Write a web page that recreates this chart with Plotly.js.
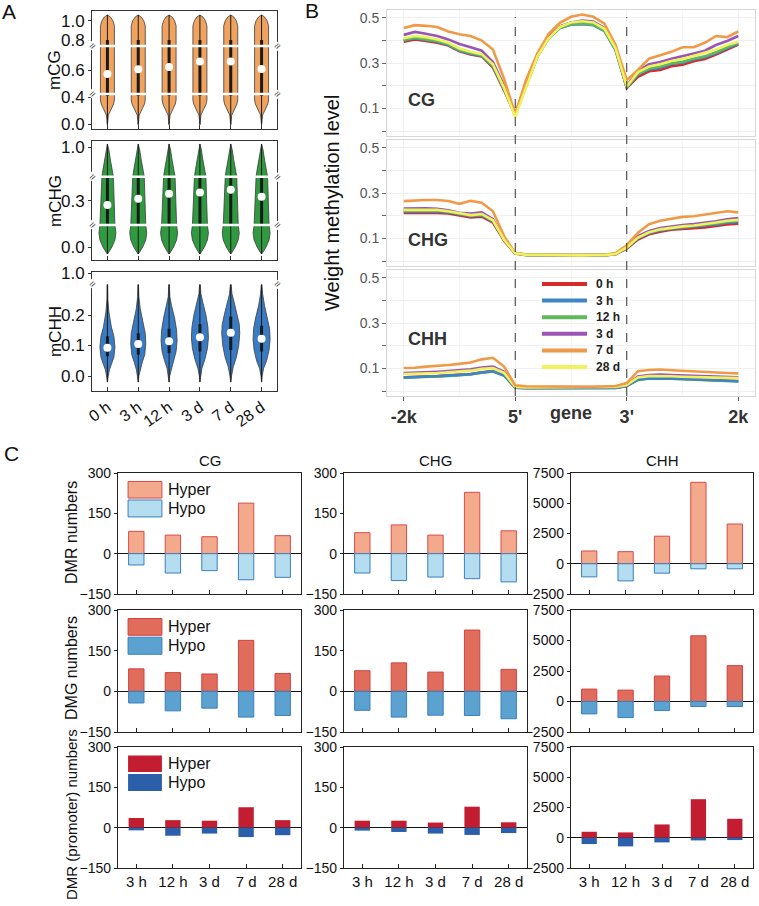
<!DOCTYPE html>
<html><head><meta charset="utf-8">
<script src="https://cdn.plot.ly/plotly-3.0.1.min.js"></script>
<style>html,body{margin:0;padding:0;background:#fff}#chart{width:759px;height:906px}</style>
</head><body><div id="chart"></div>
<script>
// ================= DATA =================
// Panel A (violins)
const timepointsA = ['0 h','3 h','12 h','3 d','7 d','28 d'];
const meanCG  = [0.583,0.603,0.612,0.635,0.635,0.604];
const meanCHG = [0.283,0.309,0.329,0.335,0.346,0.317];
const meanCHH = [0.093,0.105,0.114,0.127,0.142,0.122];
// density profiles: methylation value (top to bottom) and half width (density units)
const profCG_v = [1.06,1.04,1.0,0.95,0.74,0.7,0.5,0.45,0.36,0.3,0.255,0.18,0.135,0.06,0.015,-0.01];
const profCG_w = [0,3,5.5,7,7,7,7,7,7,6.2,5,2.5,1,0.5,0.3,0];
const profCHG_v = [1.034,0.972,0.87,0.768,0.70,0.4,0.2,0.15,0.095,0.048,0.0,-0.034,-0.048];
const profCHG_w = [0,1.5,3,4.5,5.5,6,7.5,7.5,8.5,7.5,4.5,1.5,0];
const profCHH_v = [
  [0.30,0.25,0.21,0.16,0.13,0.095,0.062,0.043,0.02,-0.003,-0.02],
  [0.30,0.26,0.22,0.18,0.14,0.105,0.07,0.045,0.02,0.0,-0.02],
  [0.30,0.26,0.23,0.19,0.15,0.115,0.08,0.05,0.025,0.0,-0.02],
  [0.30,0.27,0.24,0.20,0.16,0.125,0.09,0.055,0.025,0.0,-0.02],
  [0.30,0.27,0.24,0.20,0.17,0.14,0.10,0.06,0.03,0.0,-0.02],
  [0.30,0.27,0.23,0.19,0.155,0.12,0.085,0.05,0.025,0.0,-0.02]
];
const profCHH_w = [
  [0.3,0.5,1.5,4,6.5,7.5,6.5,4.5,2,0.7,0],
  [0.3,0.6,2,4.5,7,7.5,6.5,4,1.8,0.6,0],
  [0.3,0.8,2.5,5.5,7.5,8,7,4.5,2,0.6,0],
  [0.3,1,3,6,8,8.5,7.5,5,2,0.6,0],
  [0.4,1.2,3.5,6.5,8.5,9,8,5.5,2.5,0.8,0],
  [0.3,1,3,6,8,8.5,7.5,5,2,0.6,0]
];
const boxCG = [0.42,0.80], whiskCG = [-0.01,1.06];
const boxCHG = [0.15,0.70], whiskCHG = [-0.048,1.034];
const boxCHH_q1 = [0.065,0.07,0.075,0.08,0.085,0.08];
const boxCHH_q3 = [0.13,0.14,0.155,0.17,0.195,0.165];
const whiskCHH = [-0.02,0.30];

// Panel B (metaplot lines)
const binPos = [0,2,4,6,8,10,12,14,16,18,20,22,24,26,28,30,32,34,36,38,40,42,44,46,48,50,52,54,56,58,60];
const seriesNames = ['0 h','3 h','12 h','3 d','7 d','28 d'];
const cg0h  = [0.395,0.405,0.398,0.39,0.378,0.352,0.338,0.33,0.28,0.18,0.07,0.21,0.337,0.419,0.463,0.478,0.48,0.475,0.448,0.36,0.19,0.24,0.264,0.27,0.286,0.293,0.308,0.318,0.338,0.36,0.382];
const cg3h  = [0.40,0.41,0.402,0.395,0.38,0.355,0.342,0.332,0.285,0.185,0.072,0.205,0.33,0.41,0.455,0.47,0.472,0.468,0.442,0.358,0.192,0.25,0.272,0.28,0.296,0.302,0.316,0.326,0.344,0.366,0.386];
const cg12h = [0.402,0.412,0.405,0.398,0.383,0.358,0.345,0.335,0.288,0.186,0.072,0.206,0.331,0.41,0.456,0.471,0.474,0.47,0.444,0.36,0.193,0.252,0.276,0.285,0.3,0.306,0.32,0.33,0.348,0.37,0.39];
const cg3d  = [0.425,0.438,0.43,0.42,0.405,0.385,0.37,0.355,0.305,0.2,0.075,0.21,0.335,0.415,0.462,0.48,0.488,0.484,0.456,0.37,0.2,0.265,0.295,0.305,0.32,0.33,0.343,0.355,0.38,0.398,0.42];
const cg7d  = [0.455,0.468,0.465,0.46,0.44,0.428,0.42,0.40,0.36,0.23,0.075,0.23,0.345,0.43,0.478,0.505,0.515,0.505,0.475,0.38,0.225,0.27,0.32,0.335,0.35,0.37,0.37,0.39,0.42,0.415,0.44];
const cg28d = [0.41,0.42,0.415,0.405,0.39,0.365,0.35,0.34,0.295,0.19,0.062,0.2,0.33,0.41,0.46,0.48,0.485,0.48,0.452,0.365,0.197,0.26,0.285,0.295,0.31,0.318,0.333,0.345,0.36,0.38,0.395];
const chg0h  = [0.212,0.213,0.214,0.213,0.21,0.2,0.193,0.196,0.17,0.09,0.033,0.026,0.025,0.025,0.024,0.024,0.024,0.025,0.025,0.03,0.055,0.095,0.118,0.13,0.138,0.142,0.145,0.148,0.155,0.162,0.165];
const chg3h  = [0.218,0.219,0.22,0.219,0.215,0.205,0.198,0.202,0.175,0.093,0.034,0.027,0.026,0.026,0.025,0.025,0.025,0.026,0.026,0.031,0.058,0.1,0.123,0.135,0.143,0.147,0.151,0.155,0.162,0.169,0.173];
const chg12h = [0.222,0.223,0.224,0.223,0.218,0.208,0.2,0.205,0.178,0.094,0.034,0.027,0.026,0.026,0.025,0.025,0.025,0.026,0.026,0.031,0.06,0.103,0.126,0.138,0.146,0.151,0.155,0.159,0.166,0.174,0.178];
const chg3d  = [0.232,0.233,0.233,0.231,0.224,0.213,0.21,0.215,0.185,0.095,0.035,0.028,0.026,0.026,0.026,0.026,0.026,0.026,0.027,0.032,0.064,0.11,0.133,0.146,0.154,0.159,0.163,0.168,0.176,0.184,0.19];
const chg7d  = [0.265,0.268,0.27,0.27,0.265,0.253,0.266,0.258,0.22,0.11,0.036,0.029,0.028,0.028,0.027,0.027,0.027,0.028,0.028,0.035,0.07,0.125,0.163,0.178,0.188,0.195,0.198,0.205,0.212,0.22,0.215];
const chg28d = [0.226,0.227,0.228,0.226,0.22,0.21,0.203,0.208,0.18,0.094,0.034,0.027,0.026,0.026,0.025,0.025,0.025,0.026,0.026,0.031,0.06,0.104,0.127,0.14,0.148,0.153,0.157,0.162,0.17,0.178,0.182];
const chh0h  = [0.061,0.062,0.064,0.066,0.069,0.071,0.075,0.083,0.088,0.07,0.016,0.014,0.014,0.014,0.013,0.013,0.013,0.013,0.014,0.015,0.023,0.051,0.057,0.058,0.056,0.054,0.052,0.051,0.049,0.047,0.044];
const chh3h  = [0.06,0.061,0.063,0.065,0.068,0.07,0.074,0.082,0.087,0.069,0.015,0.013,0.013,0.013,0.012,0.012,0.012,0.012,0.013,0.014,0.022,0.05,0.056,0.057,0.055,0.053,0.051,0.05,0.048,0.046,0.043];
const chh12h = [0.059,0.06,0.062,0.064,0.067,0.069,0.073,0.081,0.086,0.068,0.015,0.013,0.013,0.013,0.012,0.012,0.012,0.012,0.013,0.014,0.022,0.049,0.055,0.056,0.054,0.052,0.05,0.049,0.047,0.045,0.042];
const chh3d  = [0.079,0.08,0.083,0.085,0.088,0.091,0.096,0.104,0.108,0.085,0.019,0.017,0.017,0.017,0.016,0.016,0.016,0.016,0.017,0.019,0.028,0.064,0.071,0.073,0.071,0.069,0.067,0.066,0.065,0.063,0.061];
const chh7d  = [0.102,0.103,0.108,0.11,0.115,0.12,0.126,0.14,0.147,0.108,0.025,0.021,0.02,0.02,0.019,0.019,0.019,0.019,0.02,0.022,0.035,0.088,0.093,0.095,0.092,0.089,0.089,0.086,0.083,0.08,0.078];
const chh28d = [0.075,0.076,0.078,0.08,0.083,0.086,0.09,0.098,0.101,0.08,0.018,0.016,0.016,0.016,0.015,0.015,0.015,0.015,0.016,0.018,0.027,0.06,0.066,0.067,0.065,0.063,0.062,0.061,0.06,0.058,0.057];
const xTickLabelsB = ['-2k',"5'","3'",'2k'];
const xTickPosB = [0,20,40,60];

// Panel C (bars)
const dmrCats = ['3 h','12 h','3 d','7 d','28 d'];
const dmrHyperCG  = [83,69,63,188,67];
const dmrHypoCG   = [-42,-72,-63,-97,-88];
const dmrHyperCHG = [78,107,69,228,85];
const dmrHypoCHG  = [-72,-100,-87,-93,-105];
const dmrHyperCHH = [1055,1000,2278,6730,3285];
const dmrHypoCHH  = [-1083,-1417,-778,-417,-417];
const dmgHyperCG  = [83,69,64,188,66];
const dmgHypoCG   = [-43,-72,-62,-95,-89];
const dmgHyperCHG = [76,105,71,226,81];
const dmgHypoCHG  = [-70,-95,-88,-89,-101];
const dmgHyperCHH = [1016,934,2088,5385,2940];
const dmgHypoCHH  = [-1016,-1319,-742,-412,-412];
const promHyperCG  = [36,28,26,76,28];
const promHypoCG   = [-10,-30,-22,-35,-28];
const promHyperCHG = [26,26,19,78,20];
const promHypoCHG  = [-11,-16,-22,-27,-20];
const promHyperCHH = [495,440,1099,3187,1566];
const promHypoCHH  = [-522,-714,-385,-220,-192];

// ================= BUILD =================
const W = 759, H = 906;
const FONT = 'Liberation Sans, Arial, Helvetica, sans-serif';
const px = p => p / W;
const py = p => 1 - p / H;
const data = [];
const layout = {
  width: W, height: H, margin: {l:0,r:0,t:0,b:0},
  paper_bgcolor:'#fff', plot_bgcolor:'#fff',
  font: {family: FONT, color:'#222'},
  barmode: 'relative', showlegend: false,
  shapes: [], annotations: []
};
function ann(o) { layout.annotations.push(Object.assign({showarrow:false, xanchor:'center', yanchor:'middle'}, o)); }

// ---------- Panel A ----------
function mapV(segs, v) {
  const lin = (s, val) => s.d0 + (val - s.v0) / (s.v1 - s.v0) * (s.d1 - s.d0);
  if (v <= segs[0].v1) return lin(segs[0], v);
  for (let i = 1; i < segs.length; i++) {
    if (v < segs[i].v0) return segs[i-1].d1;
    if (v <= segs[i].v1 || i === segs.length - 1) return lin(segs[i], v);
  }
}
const WS = 1 / 30.8;
const aPanels = [
  {title:'mCG', mean: meanCG, fill:'#f0a35e', dom:[py(129), py(11)], range:[0,118],
   segs:[{v0:0,v1:0.45,d0:5,d1:35},{v0:0.5,v1:0.7,d0:35,d1:83},{v0:0.738,v1:1.06,d0:83,d1:114}],
   ticks:[0,0.4,0.6,0.8,1.0], tickText:['0.0','0.4','0.6','0.8','1.0'], breaks:[35,83], white:true,
   profV: () => profCG_v, profW: () => profCG_w, q1: () => boxCG[0], q3: () => boxCG[1], wk: whiskCG, titleY: 70},
  {title:'mCHG', mean: meanCHG, fill:'#2f9a3f', dom:[py(260), py(141)], range:[0,119],
   segs:[{v0:0,v1:0.15,d0:13,d1:35},{v0:0.2,v1:0.4,d0:35,d1:83.3},{v0:0.7,v1:1.0,d0:83.3,d1:112.7}],
   ticks:[0,0.3,1.0], tickText:['0.0','0.3','1.0'], breaks:[35,83.3], white:true,
   profV: () => profCHG_v, profW: () => profCHG_w, q1: () => boxCHG[0], q3: () => boxCHG[1], wk: whiskCHG, titleY: 201},
  {title:'mCHH', mean: meanCHH, fill:'#3a7cc4', dom:[py(391), py(272)], range:[0,119],
   segs:[{v0:0,v1:0.3,d0:15,d1:106.5},{v0:0.95,v1:1.0,d0:107,d1:117.7}],
   ticks:[0,0.1,0.2,1.0], tickText:['0.0','0.1','0.2','1.0'], breaks:[107], white:false,
   profV: i => profCHH_v[i], profW: i => profCHH_w[i], q1: i => boxCHH_q1[i], q3: i => boxCHH_q3[i], wk: whiskCHH, titleY: 332}
];
aPanels.forEach((p, k) => {
  const n = k + 1;
  const xa = 'x' + n, ya = 'y' + n;
  layout['xaxis' + n] = {domain:[px(92), px(277)], range:[-0.5,5.5], anchor: ya,
    tickvals:[0,1,2,3,4,5], ticktext: timepointsA, showticklabels: k === 2, tickangle: -35,
    tickfont:{size:16, color:'#111'}, ticks:'inside', ticklen:4, tickcolor:'#333',
    showline:true, mirror:true, linecolor:'#333', linewidth:1, showgrid:false, zeroline:false};
  layout['yaxis' + n] = {domain: p.dom, range: p.range, anchor: xa,
    tickvals: p.ticks.map(t => mapV(p.segs, t)), ticktext: p.tickText,
    tickfont:{size:17, color:'#111'}, ticks:'outside', ticklen:3, tickcolor:'#333',
    showline:true, mirror:true, linecolor:'#333', linewidth:1, showgrid:false, zeroline:false};
  for (let i = 0; i < 6; i++) {
    const v = p.profV(i), w = p.profW(i);
    const xs = v.map((_, j) => i + w[j] * WS).concat(v.map((_, j) => i - w[j] * WS).reverse());
    const ys = v.map(val => mapV(p.segs, val)).concat(v.map(val => mapV(p.segs, val)).reverse());
    data.push({type:'scatter', mode:'lines', x: xs, y: ys, xaxis: xa, yaxis: ya, fill:'toself',
      fillcolor: p.fill, line:{color:'#3d3d3d', width:0.8}, hoverinfo:'skip'});
    data.push({type:'scatter', mode:'lines', x:[i,i], y:[mapV(p.segs,p.wk[0]), mapV(p.segs,p.wk[1])],
      xaxis: xa, yaxis: ya, line:{color:'#1a1a1a', width:1}, hoverinfo:'skip'});
    data.push({type:'scatter', mode:'lines', x:[i,i], y:[mapV(p.segs,p.q1(i)), mapV(p.segs,p.q3(i))],
      xaxis: xa, yaxis: ya, line:{color:'#1a1a1a', width:3}, hoverinfo:'skip'});
  }
  data.push({type:'scatter', mode:'markers', x:[0,1,2,3,4,5], y: p.mean.map(m => mapV(p.segs, m)),
    xaxis: xa, yaxis: ya, marker:{color:'#fff', size:8}, hoverinfo:'skip'});
  p.breaks.forEach(b => {
    if (p.white) layout.shapes.push({type:'line', xref: xa + ' domain', yref: ya, x0:0.02, x1:0.98, y0:b, y1:b,
      line:{color:'#fff', width:2.5}, layer:'above'});
    [0,1].forEach(side => ann({xref: xa + ' domain', yref: ya, x: side, y: b,
      text:'≈', font:{size:11, color:'#333'}, textangle:-50, bgcolor:'#fff', borderpad:0}));
  });
  ann({xref:'paper', yref:'paper', x: px(55), y: py(p.titleY), text: p.title,
    textangle:-90, font:{size:17, color:'#111'}});
});

// ---------- Panel B ----------
const lineColors = ['#d52b2b','#3d85c6','#5fb85a','#9b55b5','#f09a48','#eef25c'];
const bPanels = [
  {series:[cg0h,cg3h,cg12h,cg3d,cg7d,cg28d], order:[0,1,2,3,4,5], dom:[py(136), py(10)], label:'CG', labY:0.137},
  {series:[chg0h,chg3h,chg12h,chg3d,chg7d,chg28d], order:[0,1,2,3,4,5], dom:[py(266), py(140)], label:'CHG', labY:0.095},
  {series:[chh0h,chh3h,chh12h,chh3d,chh7d,chh28d], order:[0,2,1,3,5,4], dom:[py(396), py(270)], label:'CHH', labY:0.23}
];
bPanels.forEach((p, k) => {
  const n = k + 4;
  const xa = 'x' + n, ya = 'y' + n;
  layout['xaxis' + n] = {domain:[px(387), px(755)], range:[-3,63], anchor: ya,
    tickvals: xTickPosB, ticktext: xTickLabelsB, showticklabels: k === 2,
    tickfont:{size:18, color:'#333', weight:'bold'}, ticks: k === 2 ? 'outside' : '', ticklen:4, tickcolor:'#555',
    showline:true, mirror:true, linecolor:'#d6d6d6', linewidth:1,
    showgrid:true, gridcolor:'#f0f0f0', zeroline:false,
    minor:{tickvals:[10,30,50], showgrid:true, gridcolor:'#f6f6f6'}};
  layout['yaxis' + n] = {domain: p.dom, range:[-0.022,0.535], anchor: xa,
    tickvals:[0,0.1,0.2,0.3,0.4,0.5], ticktext:['','0.1','','0.3','','0.5'],
    tickfont:{size:14, color:'#555'}, ticks:'outside', ticklen:4, tickcolor:'#666',
    showline:true, mirror:true, linecolor:'#d6d6d6', linewidth:1,
    showgrid:true, gridcolor:'#f0f0f0', zeroline:false};
  p.order.forEach(s => {
    data.push({type:'scatter', mode:'lines', x: binPos, y: p.series[s], xaxis: xa, yaxis: ya,
      name: seriesNames[s], line:{color: lineColors[s], width: 2.6}, hoverinfo:'skip'});
  });
  ann({xref: xa, yref: ya, x: 0.4, y: p.labY, xanchor:'left', text: p.label,
    font:{size:18, color:'#333', weight:'bold'}});
});
[20,40].forEach(xv => layout.shapes.push({type:'line', xref:'x6', yref:'paper', x0:xv, x1:xv,
  y0: py(396), y1: py(17), line:{color:'#333', width:1, dash:'dash'}, layer:'above'}));
ann({xref:'x6', yref:'paper', x:30, y: py(413), text:'gene', font:{size:18, color:'#333', weight:'bold'}});
ann({xref:'paper', yref:'paper', x: px(332), y: py(203), text:'Weight methylation level',
  textangle:-90, font:{size:20, color:'#111'}});
// legend (inside CHH panel)
seriesNames.forEach((nm, i) => {
  const yy = 284 + i * 16.6;
  layout.shapes.push({type:'line', xref:'paper', yref:'paper', x0: px(542), x1: px(587), y0: py(yy), y1: py(yy),
    line:{color: lineColors[i], width: 4}, layer:'above'});
  ann({xref:'paper', yref:'paper', x: px(594), y: py(yy), xanchor:'left', text: nm,
    font:{size:12, color:'#222', weight:'bold'}});
});

// ---------- Panel C ----------
const rowsC = [
  {label:'DMR numbers', labY: 533, fs:16, sets:[[dmrHyperCG,dmrHypoCG],[dmrHyperCHG,dmrHypoCHG],[dmrHyperCHH,dmrHypoCHH]],
   hyper:'#f2a98c', hyperLine:'#db4a4a', hypo:'#b4ddef', hypoLine:'#3b7fc0', lw:1, dom:[py(594), py(473)]},
  {label:'DMG numbers', labY: 668, fs:16, sets:[[dmgHyperCG,dmgHypoCG],[dmgHyperCHG,dmgHypoCHG],[dmgHyperCHH,dmgHypoCHH]],
   hyper:'#e06d5c', hyperLine:'#d0413f', hypo:'#5ca2d1', hypoLine:'#3a7fbd', lw:1, dom:[py(732), py(610)]},
  {label:'DMR (promoter) numbers', labY: 815, fs:15, sets:[[promHyperCG,promHypoCG],[promHyperCHG,promHypoCHG],[promHyperCHH,promHypoCHH]],
   hyper:'#c21d30', hyperLine:'#c21d30', hypo:'#2b5fa9', hypoLine:'#2b5fa9', lw:0, dom:[py(868), py(747)]}
];
const colsC = [
  {title:'CG', dom:[px(118), px(301)], range:[-150,300], dtick:150, cx:210},
  {title:'CHG', dom:[px(344), px(527)], range:[-150,300], dtick:150, cx:435},
  {title:'CHH', dom:[px(571), px(753)], range:[-2500,7500], dtick:2500, cx:662}
];
rowsC.forEach((r, ri) => {
  colsC.forEach((c, ci) => {
    const n = 7 + ri * 3 + ci;
    const xa = 'x' + n, ya = 'y' + n;
    layout['xaxis' + n] = {domain: c.dom, anchor: ya, type:'category', range:[-0.5,4.5],
      showticklabels: ri === 2, tickfont:{size:15, color:'#111'}, ticks:'inside', ticklen:4, tickcolor:'#222',
      showline:true, mirror:true, linecolor:'#222', linewidth:1.2, showgrid:false, zeroline:false};
    layout['yaxis' + n] = {domain: r.dom, anchor: xa, range: c.range, dtick: c.dtick, tick0: 0,
      tickfont:{size:14, color:'#111'}, ticks:'outside', ticklen:3, tickcolor:'#222',
      showline:true, mirror:true, linecolor:'#222', linewidth:1.2, showgrid:false,
      zeroline:true, zerolinecolor:'#111', zerolinewidth:1};
    const [hy, ho] = r.sets[ci];
    data.push({type:'bar', x: dmrCats, y: hy, xaxis: xa, yaxis: ya, width:0.42,
      marker:{color: r.hyper, line:{color: r.hyperLine, width: r.lw}}, hoverinfo:'skip'});
    data.push({type:'bar', x: dmrCats, y: ho, xaxis: xa, yaxis: ya, width:0.42,
      marker:{color: r.hypo, line:{color: r.hypoLine, width: r.lw}}, hoverinfo:'skip'});
    if (ci === 0) {
      layout.shapes.push({type:'rect', xref: xa + ' domain', yref: ya + ' domain', x0:0.055, x1:0.24, y0:0.793, y1:0.93,
        fillcolor: r.hyper, line:{color: r.hyperLine, width: r.lw || 0.01}});
      layout.shapes.push({type:'rect', xref: xa + ' domain', yref: ya + ' domain', x0:0.055, x1:0.24, y0:0.637, y1:0.777,
        fillcolor: r.hypo, line:{color: r.hypoLine, width: r.lw || 0.01}});
      ann({xref: xa + ' domain', yref: ya + ' domain', x:0.265, y:0.862, xanchor:'left',
        text:'Hyper', font:{size:16, color:'#111'}});
      ann({xref: xa + ' domain', yref: ya + ' domain', x:0.265, y:0.707, xanchor:'left',
        text:'Hypo', font:{size:16, color:'#111'}});
    }
  });
  ann({xref:'paper', yref:'paper', x: px(71), y: py(r.labY), text: r.label,
    textangle:-90, font:{size:r.fs, color:'#111'}});
});
colsC.forEach(c => ann({xref:'paper', yref:'paper', x: px(c.cx), y: py(460), text: c.title,
  font:{size:15, color:'#111'}}));

// panel letters
[['A',9,12],['B',312,11],['C',11,453]].forEach(([t,x,y]) => ann({xref:'paper', yref:'paper',
  x: px(x), y: py(y), text: t, font:{size:21, color:'#111'}}));

Plotly.newPlot('chart', data, layout, {staticPlot:true});
</script></body></html>
